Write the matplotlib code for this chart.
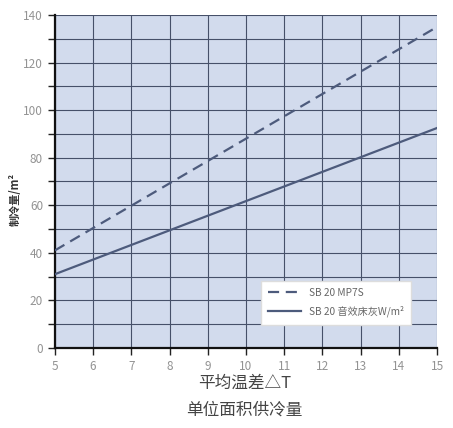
import matplotlib.pyplot as plt
import numpy as np

plt.rcParams['font.family'] = ['Noto Sans CJK SC', 'DejaVu Sans']

# data
delta_t = [5, 15]
mp7s = [41, 135]
floor = [31, 92.5]
x_ticks = list(range(5, 16))
y_major = list(range(0, 141, 20))
y_minor = list(range(0, 141, 10))

line_color = "#4d5b7c"
grid_color = "#465069"
label_color = "#939393"

fig = plt.figure(figsize=(4.53, 4.28), dpi=100, facecolor="white")
ax = fig.add_axes([0.121, 0.187, 0.844, 0.778], facecolor="#d2dbed")

for gx in x_ticks:
    ax.axvline(gx, color=grid_color, lw=0.8, zorder=1)
for gy in y_minor:
    ax.axhline(gy, color=grid_color, lw=0.8, zorder=1)

ax.plot(delta_t, mp7s, color=line_color, lw=1.6, ls=(0, (5, 3)), zorder=3, label="SB 20 MP7S")
ax.plot(delta_t, floor, color=line_color, lw=1.6, zorder=3, label="SB 20 音效床灰W/m²")

ax.set_xlim(5, 15)
ax.set_ylim(0, 140)
ax.set_xticks(x_ticks)
ax.set_yticks(y_major)
ax.set_yticks(y_minor, minor=True)
ax.tick_params(axis="both", which="both", colors="#222222", labelcolor=label_color, labelsize=8.5, length=5, width=1)
ax.tick_params(axis="y", which="minor", length=5)

for side in ("top", "right"):
    ax.spines[side].set_visible(False)
for side in ("left", "bottom"):
    ax.spines[side].set_color("#111111")
    ax.spines[side].set_linewidth(1.6)

ax.set_ylabel("制冷量/m²", fontsize=8, color="#333333", fontweight="bold")
ax.yaxis.set_label_coords(-0.086, 0.445)

leg = ax.legend(loc="lower right", bbox_to_anchor=(0.945, 0.055), fontsize=7.3, frameon=True,
                fancybox=False, framealpha=1, edgecolor="#dddddd", handlelength=3.2, labelspacing=0.8,
                borderpad=0.7)
for t in leg.get_texts():
    t.set_color("#666666")

fig.text(0.54, 0.105, "平均温差△T", ha="center", va="center", fontsize=12, color="#444444")
fig.text(0.54, 0.042, "单位面积供冷量", ha="center", va="center", fontsize=12, color="#444444")

fig.savefig("out.png", dpi=100, facecolor="white")
